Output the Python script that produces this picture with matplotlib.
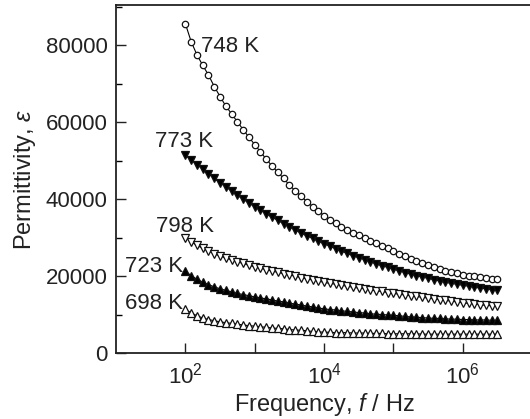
"""Dielectric permittivity vs. frequency at five temperatures (log frequency axis)."""

import matplotlib

matplotlib.use("Agg")
import matplotlib.pyplot as plt
from matplotlib.ticker import FixedLocator, LogFormatterSciNotation, MultipleLocator, NullLocator

# measurement sweep, 12 points per decade from 100 Hz to ~3 MHz
FREQ_HZ = [
    100, 121, 147, 178, 215, 261, 316, 383, 464, 562, 681, 825,
    1000, 1210, 1470, 1780, 2150, 2610, 3160, 3830, 4640, 5620, 6810, 8250,
    1.0e4, 1.21e4, 1.47e4, 1.78e4, 2.15e4, 2.61e4, 3.16e4, 3.83e4, 4.64e4, 5.62e4, 6.81e4, 8.25e4,
    1.0e5, 1.21e5, 1.47e5, 1.78e5, 2.15e5, 2.61e5, 3.16e5, 3.83e5, 4.64e5, 5.62e5, 6.81e5, 8.25e5,
    1.0e6, 1.21e6, 1.47e6, 1.78e6, 2.15e6, 2.61e6, 3.16e6,
]

EPS_748K = [
    85600, 81000, 77500, 74800, 72300, 69300, 66700, 64200, 62200, 60100, 58100, 56100,
    54200, 52300, 50400, 48600, 47000, 45400, 43700, 42200, 40800, 39400, 38100, 36900,
    35700, 34700, 33700, 32800, 32000, 31300, 30600, 29900, 29200, 28600, 27900, 27200,
    26500, 25800, 25100, 24500, 23900, 23300, 22800, 22300, 21800, 21400, 21000, 20700,
    20400, 20100, 19900, 19700, 19500, 19300, 19200,
]
EPS_773K = [
    51500, 50200, 49000, 47800, 46600, 45400, 44300, 43200, 42100, 41000, 40000, 39000,
    38000, 37100, 36200, 35300, 34500, 33600, 32800, 32000, 31200, 30500, 29800, 29100,
    28400, 27800, 27100, 26500, 25900, 25300, 24800, 24300, 23700, 23200, 22700, 22300,
    21800, 21400, 20900, 20500, 20100, 19800, 19400, 19100, 18700, 18400, 18100, 17900,
    17600, 17400, 17100, 16900, 16700, 16500, 16300,
]
EPS_798K = [
    30000, 28900, 28000, 27200, 26500, 25800, 25200, 24700, 24200, 23700, 23300, 22800,
    22400, 22000, 21700, 21300, 21000, 20600, 20300, 20000, 19600, 19300, 19000, 18700,
    18400, 18100, 17900, 17600, 17400, 17100, 16900, 16700, 16400, 16200, 16000, 15700,
    15500, 15300, 15100, 14900, 14700, 14500, 14300, 14100, 13900, 13700, 13500, 13300,
    13100, 12900, 12800, 12600, 12400, 12300, 12100,
]
EPS_723K = [
    21300, 20100, 19200, 18400, 17800, 17200, 16700, 16300, 15900, 15500, 15200, 14900,
    14600, 14300, 14100, 13800, 13500, 13300, 13000, 12700, 12500, 12200, 12000, 11700,
    11500, 11300, 11200, 11000, 10800, 10700, 10500, 10400, 10200, 10100, 10000, 9900,
    9800, 9700, 9500, 9400, 9300, 9200, 9100, 9000, 9000, 8900, 8800, 8800,
    8700, 8700, 8600, 8600, 8600, 8500, 8500,
]
EPS_698K = [
    11400, 10400, 9700, 9100, 8700, 8400, 8100, 7900, 7700, 7500, 7300, 7100,
    7000, 6800, 6700, 6500, 6400, 6300, 6100, 6000, 5900, 5800, 5600, 5500,
    5400, 5400, 5300, 5300, 5300, 5200, 5200, 5200, 5100, 5100, 5100, 5000,
    5000, 5000, 5000, 5000, 5000, 4900, 4900, 4900, 4900, 4900, 4900, 4900,
    4900, 4900, 4900, 4900, 4900, 4900, 4900,
]

# label text, anchor frequency and baseline permittivity for each curve label
LABELS = ["748 K", "773 K", "798 K", "723 K", "698 K"]
LABEL_FREQ = [170, 37, 38, 13.6, 13.6]
LABEL_EPS = [78200, 53600, 31400, 21000, 11400]


def main() -> None:
    plt.rcParams["font.family"] = ["Liberation Sans", "DejaVu Sans"]
    plt.rcParams["mathtext.fontset"] = "custom"
    plt.rcParams["mathtext.rm"] = "Liberation Sans"
    plt.rcParams["mathtext.it"] = "Liberation Sans:italic"

    fig = plt.figure(figsize=(5.30, 4.19), dpi=100)
    ax = fig.add_axes([0.219, 0.1575, 0.785, 0.8305])

    series = [
        (EPS_748K, "o", "white", 4.6),
        (EPS_773K, "v", "black", 6.2),
        (EPS_798K, "v", "white", 6.2),
        (EPS_723K, "^", "black", 6.2),
        (EPS_698K, "^", "white", 6.2),
    ]
    for eps, marker, face, size in series:
        ax.plot(FREQ_HZ, eps, color="black", lw=0.8, marker=marker, ms=size,
                mfc=face, mec="#111111", mew=0.9)

    for text, f, e in zip(LABELS, LABEL_FREQ, LABEL_EPS):
        ax.text(f, e, text, fontsize=16, ha="left", va="baseline", color="#222222")

    ax.set_xscale("log")
    ax.set_xlim(10, 1e7)
    ax.set_ylim(0, 90500)

    ax.xaxis.set_major_locator(FixedLocator([1e2, 1e3, 1e4, 1e5, 1e6]))
    ax.xaxis.set_minor_locator(NullLocator())
    fmt = LogFormatterSciNotation()
    ax.set_xticks([1e2, 1e3, 1e4, 1e5, 1e6])
    ax.set_xticklabels([fmt(1e2), "", fmt(1e4), "", fmt(1e6)])

    ax.yaxis.set_major_locator(MultipleLocator(20000))
    ax.yaxis.set_minor_locator(MultipleLocator(10000))

    ax.tick_params(which="major", direction="in", length=7, width=1.0, labelsize=16,
                   pad=6, colors="#222222")
    ax.tick_params(which="minor", direction="in", length=4.5, width=1.0)
    ax.tick_params(axis="x", pad=7)

    ax.spines["right"].set_visible(False)
    for side in ("left", "bottom", "top"):
        ax.spines[side].set_linewidth(1.3)
        ax.spines[side].set_color("#222222")

    ax.set_xlabel("Frequency, $f$ / Hz", fontsize=17, color="#222222", labelpad=2)
    ax.set_ylabel(r"Permittivity, $\varepsilon$", fontsize=17, color="#222222", labelpad=6)

    fig.savefig("out.png", dpi=100)
    plt.close(fig)


if __name__ == "__main__":
    main()
